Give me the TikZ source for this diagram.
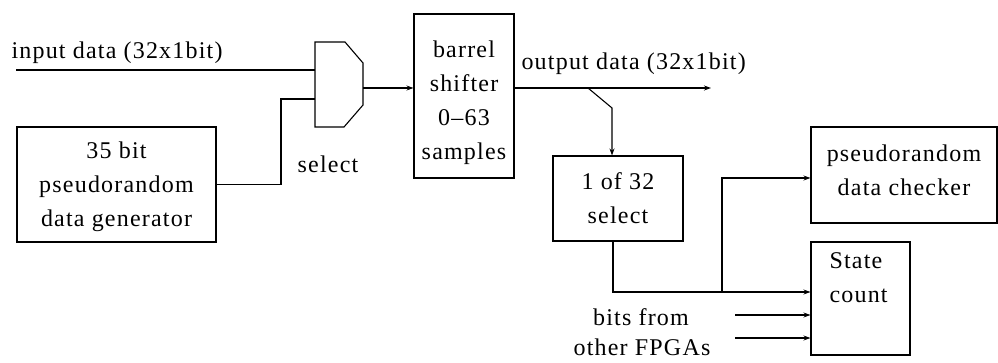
\documentclass[tikz,border=0pt]{standalone}
\usepackage{fontspec}
\setmainfont{Liberation Serif}
\newfontfamily\dfont[LetterSpace=5]{Liberation Serif}
\usetikzlibrary{arrows.meta}
\begin{document}
\begin{tikzpicture}[x=1pt,y=-1pt, line width=1.1pt, line join=miter,
  box/.style={draw, inner sep=0pt},
  lbl/.style={font=\dfont\fontsize{24}{34}\selectfont, inner sep=0pt, align=center},
  arr/.style={-{Stealth[length=7pt,width=5pt]}}]
\useasboundingbox (0,0) rectangle (998,363);

% boxes
\node[box, minimum width=199pt, minimum height=115pt] (gen) at (116.5,184.5) {};
\node[box, minimum width=100pt, minimum height=164pt] (barrel) at (464,96) {};
\node[box, minimum width=130pt, minimum height=85pt] (sel) at (618,198.5) {};
\node[box, minimum width=186pt, minimum height=96pt] (chk) at (904,175) {};
\node[box, minimum width=99pt, minimum height=113pt] (state) at (860.5,298.5) {};

% box texts
\node[lbl] (gent) at (116.5,187) {35 bit\\pseudorandom\\data generator};
\node[lbl] (barrelt) at (464,103) {barrel\\shifter\\0–63\\samples};
\node[lbl] (selt) at (618,198) {1 of 32\\select};
\node[lbl] (chkt) at (904,170) {pseudorandom\\data checker};
\node[lbl, align=left, anchor=north west] (statet) at (829,252) {State\\count};

% mux
\coordinate (m1) at (315,42);
\coordinate (m2) at (345,42);
\coordinate (m3) at (363,63);
\coordinate (m4) at (363,105);
\coordinate (m5) at (344,127);
\coordinate (m6) at (315,127);
\draw (m1) -- (m2) -- (m3) -- (m4) -- (m5) -- (m6) -- cycle;
\coordinate (min1) at (315,70);
\coordinate (min2) at (315,99);
\coordinate (mout) at (363,88);

% free labels
\node[lbl, anchor=base west] (inl) at (11,59) {input data (32x1bit)};
\node[lbl, anchor=base west] (outl) at (521,70) {output data (32x1bit)};
\node[lbl, anchor=base] (msel) at (328,173) {select};
\node[lbl, anchor=base] (bits) at (641,325) {bits from};
\node[lbl, anchor=base] (fpga) at (642,355) {other FPGAs};

% connectors
\coordinate (instart) at (16,70);
\draw (instart) -- (min1);
\draw (gen.east) -- (281,184.5) -- (281,99) -- (min2);
\draw[arr] (mout) -- (barrel.west |- mout);
\coordinate (outend) at (711,88);
\draw[arr] (barrel.east |- mout) -- (outend);
\coordinate (tap) at (588,88);
\coordinate (tapk) at (612,108);
\draw[arr] (tap) -- (tapk) -- (tapk |- sel.north);
\coordinate (sdown) at (613,292);
\coordinate (split) at (722,292);
\draw[arr] (sel.south -| sdown) -- (sdown) -- (state.west |- sdown);
\draw[arr] (split) -- (722,178) -- (chk.west |- 0,178);
\coordinate (b1) at (735,315);
\coordinate (b2) at (735,338);
\draw[arr] (b1) -- (state.west |- b1);
\draw[arr] (b2) -- (state.west |- b2);
\end{tikzpicture}
\end{document}
